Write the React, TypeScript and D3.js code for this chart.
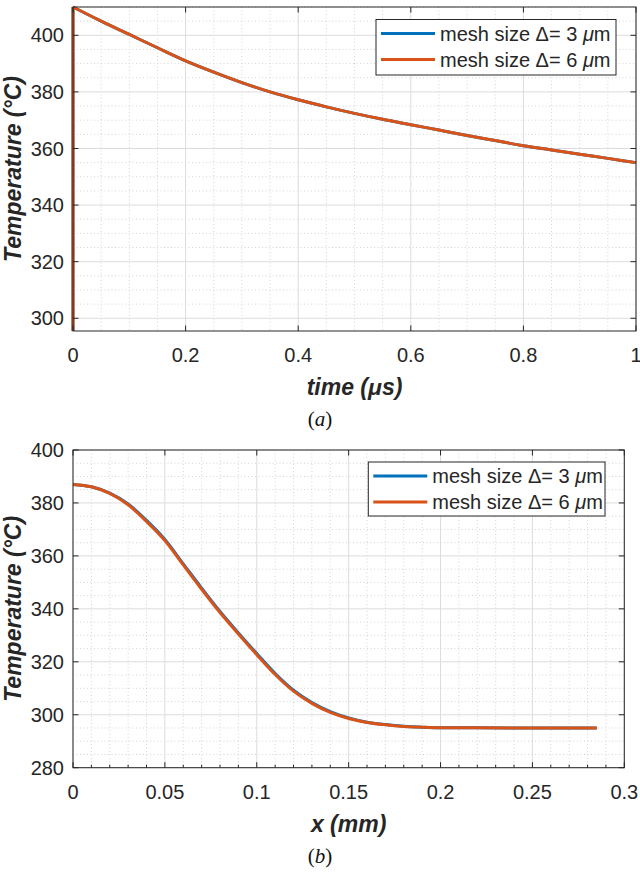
import React from "react";
import * as d3 from "d3";

// ---------- Data: panel (a) temperature vs time ----------
const timeA = [0, 0, 0.05, 0.1, 0.15, 0.2, 0.25, 0.3, 0.35, 0.4, 0.45, 0.5, 0.55, 0.6, 0.65, 0.7, 0.75, 0.8, 0.85, 0.9, 0.95, 1.0];
const tempA3 = [295.5, 410, 405, 400.3, 395.6, 391, 387, 383.3, 380, 377.2, 374.7, 372.4, 370.3, 368.4, 366.5, 364.6, 362.8, 361, 359.5, 358, 356.5, 355];
const tempA6 = [295.5, 410, 405, 400.3, 395.6, 391, 387, 383.3, 380, 377.2, 374.7, 372.4, 370.3, 368.4, 366.5, 364.6, 362.8, 361, 359.5, 358, 356.5, 355];
const xTicksA = [0, 0.2, 0.4, 0.6, 0.8, 1];
const xTickLabelsA = ["0", "0.2", "0.4", "0.6", "0.8", "1"];
const yTicksA = [300, 320, 340, 360, 380, 400];

// ---------- Data: panel (b) temperature vs x ----------
const posB = [0, 0.01, 0.02, 0.03, 0.04, 0.05, 0.06, 0.07, 0.08, 0.09, 0.1, 0.11, 0.12, 0.13, 0.14, 0.15, 0.16, 0.17, 0.18, 0.19, 0.2, 0.22, 0.25, 0.285];
const tempB3 = [387, 386.1, 383.7, 379.6, 373.4, 366.2, 357, 347.8, 339, 330.9, 323.1, 315.6, 309.3, 304.6, 301.2, 298.8, 297.2, 296.3, 295.65, 295.3, 295.1, 295.05, 295, 295];
const tempB6 = [387, 386.1, 383.6, 379.3, 373, 365.8, 356.6, 347.4, 338.6, 330.5, 322.7, 315.2, 308.9, 304.3, 300.9, 298.6, 297.1, 296.2, 295.6, 295.3, 295.1, 295.05, 295, 295];
const xTicksB = [0, 0.05, 0.1, 0.15, 0.2, 0.25, 0.3];
const xTickLabelsB = ["0", "0.05", "0.1", "0.15", "0.2", "0.25", "0.3"];
const yTicksB = [280, 300, 320, 340, 360, 380, 400];

const seriesNames = ["3", "6"];
const seriesColors = ["#0072BD", "#D95319"];

const SANS = "'Liberation Sans', Arial, Helvetica, sans-serif";
const SERIF = "'Liberation Serif', 'Times New Roman', serif";
const AX = "#262626";

type PanelProps = {
  left: number; right: number; top: number; bottom: number;
  xDomain: [number, number]; yDomain: [number, number];
  xTicks: number[]; xTickLabels: string[]; yTicks: number[];
  xMinorStep: number; yMinorStep: number; xMinorTicks: boolean;
  xs: number[]; ys: number[][];
  xLabel: React.ReactNode; caption: string;
  legend: { x0: number; y0: number; w: number; h: number };
};

function Panel(p: PanelProps) {
  const x = d3.scaleLinear().domain(p.xDomain).range([p.left, p.right]);
  const y = d3.scaleLinear().domain(p.yDomain).range([p.bottom, p.top]);

  // split: leading points sharing the same x (vertical jump) drawn straight, rest smooth
  let k = 0;
  while (k + 1 < p.xs.length && p.xs[k + 1] === p.xs[0]) k++;
  const straight = d3.line<[number, number]>().x((d) => x(d[0])).y((d) => y(d[1]));
  const smooth = d3.line<[number, number]>().x((d) => x(d[0])).y((d) => y(d[1])).curve(d3.curveMonotoneX);
  const makePath = (s: number[]) => {
    const pts: [number, number][] = p.xs.map((v, i) => [v, s[i]]);
    const a = k > 0 ? straight(pts.slice(0, k + 1)) || "" : "";
    const b = smooth(pts.slice(k)) || "";
    return a + b;
  };

  const xMinor = d3.range(p.xDomain[0], p.xDomain[1] + 1e-9, p.xMinorStep)
    .filter((v) => !p.xTicks.some((t) => Math.abs(t - v) < 1e-9));
  const yStart = Math.ceil(p.yDomain[0] / p.yMinorStep) * p.yMinorStep;
  const yMinor = d3.range(yStart, p.yDomain[1] + 1e-9, p.yMinorStep)
    .filter((v) => !p.yTicks.some((t) => Math.abs(t - v) < 1e-9));

  const tl = 5.5;
  const cy = (p.top + p.bottom) / 2;
  const cx = (p.left + p.right) / 2;
  const lg = p.legend;

  return (
    <g>
      <rect x={p.left} y={p.top} width={p.right - p.left} height={p.bottom - p.top} fill="#fff" />
      {xMinor.map((v, i) => (
        <line key={"xm" + i} x1={x(v)} x2={x(v)} y1={p.top} y2={p.bottom} stroke="#d4d4d4" strokeWidth={1} strokeDasharray="1,2.5" />
      ))}
      {yMinor.map((v, i) => (
        <line key={"ym" + i} y1={y(v)} y2={y(v)} x1={p.left} x2={p.right} stroke="#d4d4d4" strokeWidth={1} strokeDasharray="1,2.5" />
      ))}
      {p.xTicks.map((v, i) => (
        <line key={"xg" + i} x1={x(v)} x2={x(v)} y1={p.top} y2={p.bottom} stroke="#dcdcdc" strokeWidth={1} />
      ))}
      {p.yTicks.map((v, i) => (
        <line key={"yg" + i} y1={y(v)} y2={y(v)} x1={p.left} x2={p.right} stroke="#dcdcdc" strokeWidth={1} />
      ))}
      {p.ys.map((s, i) => (
        <path key={"l" + i} d={makePath(s)} fill="none" stroke={seriesColors[i]} strokeWidth={3} strokeLinejoin="round" />
      ))}
      <rect x={p.left} y={p.top} width={p.right - p.left} height={p.bottom - p.top} fill="none" stroke={AX} strokeWidth={1} />
      {p.xTicks.map((v, i) => (
        <g key={"xt" + i}>
          <line x1={x(v)} x2={x(v)} y1={p.bottom} y2={p.bottom - tl} stroke={AX} />
          <line x1={x(v)} x2={x(v)} y1={p.top} y2={p.top + tl} stroke={AX} />
          <text x={x(v)} y={p.bottom + 31} textAnchor="middle" fontSize={20} fill={AX} fontFamily={SANS}>{p.xTickLabels[i]}</text>
        </g>
      ))}
      {p.xMinorTicks && xMinor.map((v, i) => (
        <line key={"xmt" + i} x1={x(v)} x2={x(v)} y1={p.bottom} y2={p.bottom - 3} stroke={AX} />
      ))}
      {p.yTicks.map((v, i) => (
        <g key={"yt" + i}>
          <line x1={p.left} x2={p.left + tl} y1={y(v)} y2={y(v)} stroke={AX} />
          <line x1={p.right} x2={p.right - tl} y1={y(v)} y2={y(v)} stroke={AX} />
          <text x={p.left - 9} y={y(v)} dy="0.36em" textAnchor="end" fontSize={20} fill={AX} fontFamily={SANS}>{v}</text>
        </g>
      ))}
      <text x={cx} y={p.bottom + 64} textAnchor="middle" fontSize={23} fontWeight="bold" fontStyle="italic" fill={AX} fontFamily={SANS}>{p.xLabel}</text>
      <text transform={`translate(21,${cy}) rotate(-90)`} textAnchor="middle" fontSize={23} fontWeight="bold" fontStyle="italic" fill={AX} fontFamily={SANS}>Temperature (°C)</text>
      <text x={320} y={p.bottom + 95} textAnchor="middle" fontSize={21} fill="#111" fontFamily={SERIF}>
        (<tspan fontStyle="italic">{p.caption}</tspan>)
      </text>
      <rect x={lg.x0} y={lg.y0} width={lg.w} height={lg.h} fill="#fff" stroke={AX} strokeWidth={1} />
      {seriesNames.map((n, i) => {
        const ly = lg.y0 + 14 + i * 26;
        return (
          <g key={"lg" + i}>
            <line x1={lg.x0 + 5} x2={lg.x0 + 59} y1={ly} y2={ly} stroke={seriesColors[i]} strokeWidth={3} />
            <text x={lg.x0 + 64} y={ly} dy="0.36em" fontSize={20} fill={AX} fontFamily={SANS}>
              mesh size Δ= {n} <tspan fontStyle="italic">μ</tspan>m
            </text>
          </g>
        );
      })}
    </g>
  );
}

export default function App() {
  return (
    <svg width={640} height={873} style={{ position: "absolute", left: 0, top: 0, background: "#fff" }}>
      <rect width={640} height={873} fill="#fff" />
      <Panel
        left={73} right={636} top={7} bottom={331}
        xDomain={[0, 1]} yDomain={[295.5, 410]}
        xTicks={xTicksA} xTickLabels={xTickLabelsA} yTicks={yTicksA}
        xMinorStep={0.05} yMinorStep={5} xMinorTicks={false}
        xs={timeA} ys={[tempA3, tempA6]}
        xLabel={<>time (<tspan>μ</tspan>s)</>} caption="a"
        legend={{ x0: 376, y0: 19.5, w: 240, h: 55.5 }}
      />
      <Panel
        left={73} right={624.3} top={450} bottom={767.7}
        xDomain={[0, 0.3]} yDomain={[280, 400]}
        xTicks={xTicksB} xTickLabels={xTickLabelsB} yTicks={yTicksB}
        xMinorStep={0.01} yMinorStep={5} xMinorTicks={true}
        xs={posB} ys={[tempB3, tempB6]}
        xLabel={<>x (mm)</>} caption="b"
        legend={{ x0: 368.3, y0: 462, w: 236.7, h: 54 }}
      />
    </svg>
  );
}
